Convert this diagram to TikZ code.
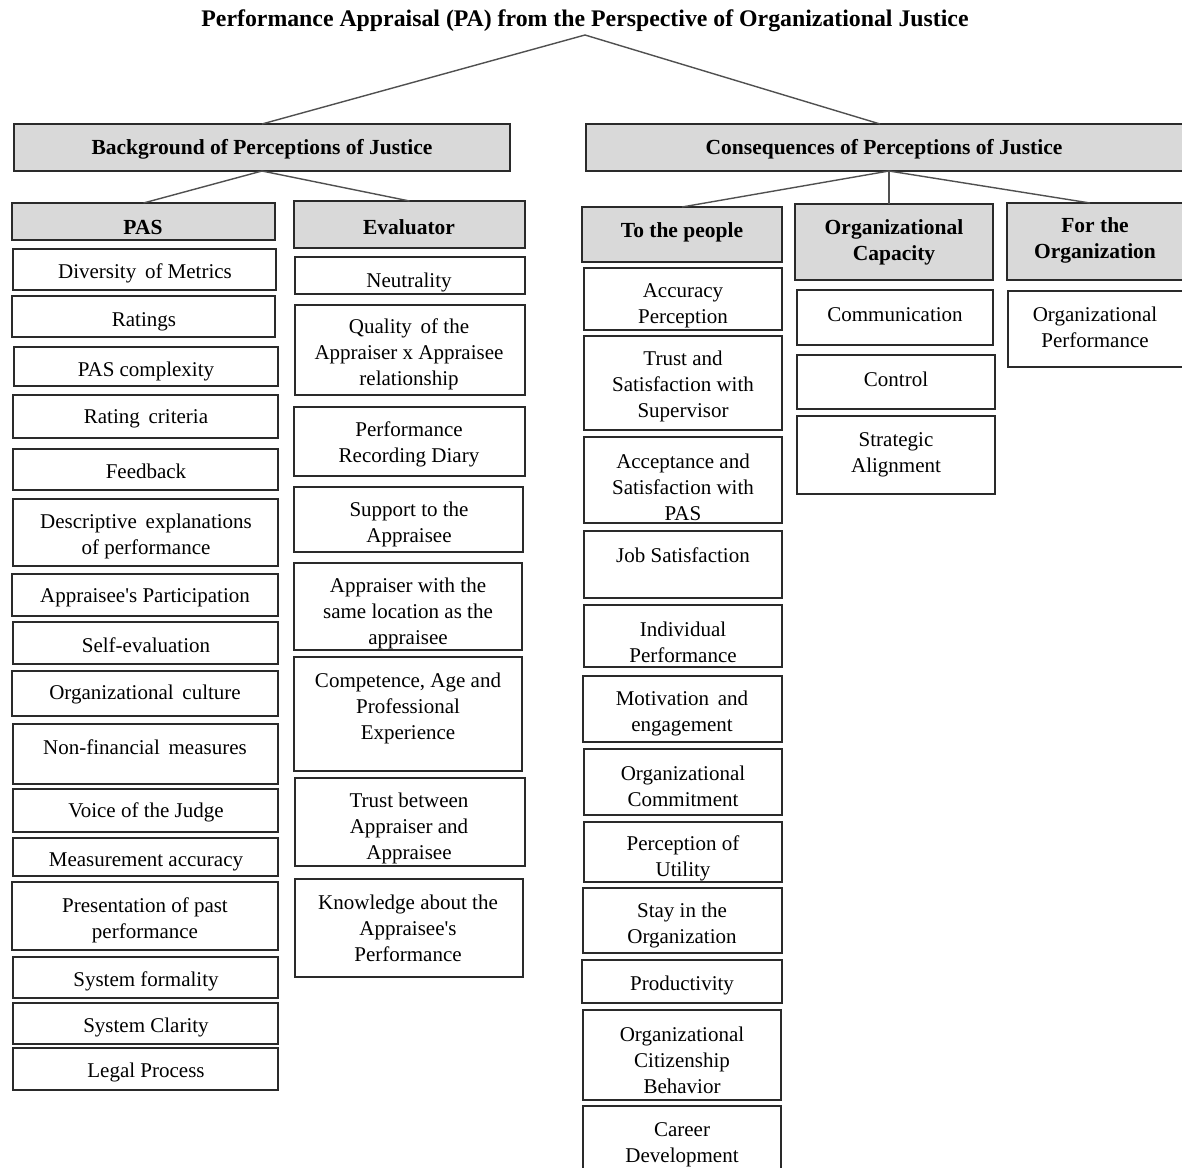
\documentclass[tikz,border=0pt]{standalone}
\usepackage{fontspec}
\setmainfont{Liberation Serif}[Ligatures=TeXOff]
\usetikzlibrary{calc}
\definecolor{hdrgray}{HTML}{D9D9D9}
\definecolor{edge}{HTML}{2A2A2A}
\definecolor{conn}{HTML}{505050}
\tikzset{
  boxw/.style={draw=edge, line width=1.9pt, fill=white, rectangle, inner sep=0pt, outer sep=0pt},
  boxg/.style={draw=edge, line width=1.9pt, fill=hdrgray, rectangle, inner sep=0pt, outer sep=0pt},
  txt/.style={align=center, inner sep=0pt, yshift=-2.5pt, font=\fontsize{21}{26}\selectfont},
  btxt/.style={align=center, inner sep=0pt, yshift=-2.5pt, font=\fontsize{21.5}{26}\selectfont\bfseries},
  ttxt/.style={align=center, inner sep=0pt, font=\fontsize{23.8}{28}\selectfont\bfseries},
  link/.style={draw=conn, line width=1.4pt},
}
% #1 name, #2 x1, #3 y1, #4 x2, #5 y2, #6 style, #7 text x, #8 text y, #9 text
\newcommand\mybx[9]{%
  \node[#6, minimum width={#4-#2}, minimum height={#5-#3}] (#1) at ({(#2+#4)/2},{(#3+#5)/2}) {};
  \node[txt] (#1t) at (#7,#8) {#9};
}
\newcommand\myhd[9]{%
  \node[#6, minimum width={#4-#2}, minimum height={#5-#3}] (#1) at ({(#2+#4)/2},{(#3+#5)/2}) {};
  \node[btxt] (#1t) at (#7,#8) {#9};
}
\begin{document}
\begin{tikzpicture}[x=1pt,y=-1pt]
\useasboundingbox (0,0) rectangle (1182,1167);
\clip (0,0) rectangle (1182,1167);
\fill[white] (0,0) rectangle (1182,1167);

% title
\node[ttxt] (title) at (585,21) {Performance Appraisal (PA) from the Perspective of Organizational Justice};
\coordinate (titleB) at (585,35);

% level 1
\myhd{bg}{14}{124}{510}{171}{boxg}{262}{147}{Background of Perceptions of Justice}
\myhd{cons}{586}{124}{1190}{171}{boxg}{884}{147}{Consequences of Perceptions of Justice}
\coordinate (consTop) at (880,124);
\coordinate (consBot) at (889,171);

% level 2
\myhd{pas}{12}{203}{275}{240}{boxg}{143}{225}{PAS}
\myhd{ev}{294}{201}{525}{248}{boxg}{409}{225}{Evaluator}
\myhd{ppl}{582}{207}{782}{262}{boxg}{682}{230}{To the people}
\myhd{cap}{795}{204}{993}{280}{boxg}{894}{240}{Organizational\\Capacity}
\myhd{forg}{1007}{203}{1190}{280}{boxg}{1095}{238}{For the\\Organization}
\coordinate (forgTop) at (1090,203);

% connectors
\draw[link] (titleB) -- (bg.north);
\draw[link] (titleB) -- (consTop);
\draw[link] (bg.south) -- (pas.north);
\draw[link] (bg.south) -- (ev.north);
\draw[link] (consBot) -- (ppl.north);
\draw[link] (consBot) -- (consBot |- cap.north);
\draw[link] (consBot) -- (forgTop);

% PAS column
\mybx{p1}{13}{249}{276}{290}{boxw}{145}{271}{Diversity\, of Metrics}
\mybx{p2}{12}{296}{275}{337}{boxw}{144}{319}{Ratings}
\mybx{p3}{14}{347}{278}{386}{boxw}{146}{369}{PAS complexity}
\mybx{p4}{13}{395}{278}{438}{boxw}{146}{416}{Rating\, criteria}
\mybx{p5}{13}{449}{278}{490}{boxw}{146}{469}{Feedback}
\mybx{p6}{13}{499}{278}{566}{boxw}{146}{534}{Descriptive\, explanations\\of performance}
\mybx{p7}{12}{574}{278}{616}{boxw}{145}{595}{Appraisee's Participation}
\mybx{p8}{13}{622}{278}{664}{boxw}{146}{643}{Self-evaluation}
\mybx{p9}{12}{671}{278}{716}{boxw}{145}{692}{Organizational\, culture}
\mybx{p10}{13}{724}{278}{784}{boxw}{145}{745}{Non-financial\, measures}
\mybx{p11}{13}{789}{278}{832}{boxw}{146}{810}{Voice of the Judge}
\mybx{p12}{13}{838}{278}{876}{boxw}{146}{859}{Measurement accuracy}
\mybx{p13}{12}{882}{278}{950}{boxw}{145}{918}{Presentation of past\\performance}
\mybx{p14}{13}{957}{278}{998}{boxw}{146}{979}{System formality}
\mybx{p15}{13}{1003}{278}{1044}{boxw}{146}{1025}{System Clarity}
\mybx{p16}{13}{1048}{278}{1090}{boxw}{146}{1070}{Legal Process}

% Evaluator column
\mybx{e1}{295}{257}{525}{294}{boxw}{409}{280}{Neutrality}
\mybx{e2}{295}{305}{525}{395}{boxw}{409}{352}{Quality\, of the\\Appraiser x Appraisee\\relationship}
\mybx{e3}{294}{407}{525}{476}{boxw}{409}{442}{Performance\\Recording Diary}
\mybx{e4}{294}{487}{523}{552}{boxw}{409}{522}{Support to the\\Appraisee}
\mybx{e5}{294}{563}{522}{650}{boxw}{408}{611}{Appraiser with the\\same location as the\\appraisee}
\mybx{e6}{294}{657}{522}{771}{boxw}{408}{706}{Competence, Age and\\Professional\\Experience}
\mybx{e7}{295}{778}{525}{866}{boxw}{409}{826}{Trust between\\Appraiser and\\Appraisee}
\mybx{e8}{295}{879}{523}{977}{boxw}{408}{926}{Knowledge about the\\Appraisee's\\Performance}

% To the people column
\mybx{t1}{584}{268}{782}{330}{boxw}{683}{303}{Accuracy\\Perception}
\mybx{t2}{584}{336}{782}{430}{boxw}{683}{384}{Trust and\\Satisfaction with\\Supervisor}
\mybx{t3}{584}{437}{782}{523}{boxw}{683}{485}{Acceptance and\\Satisfaction with\\PAS}
\mybx{t4}{584}{531}{782}{598}{boxw}{683}{553}{Job Satisfaction}
\mybx{t5}{584}{605}{782}{667}{boxw}{683}{640}{Individual\\Performance}
\mybx{t6}{583}{676}{782}{742}{boxw}{682}{711}{Motivation\, and\\engagement}
\mybx{t7}{584}{749}{782}{815}{boxw}{683}{784}{Organizational\\Commitment}
\mybx{t8}{584}{822}{782}{882}{boxw}{683}{856}{Perception of\\Utility}
\mybx{t9}{583}{888}{782}{953}{boxw}{682}{923}{Stay in the\\Organization}
\mybx{t10}{582}{960}{782}{1003}{boxw}{682}{983}{Productivity}
\mybx{t11}{583}{1010}{781}{1100}{boxw}{682}{1058}{Organizational\\Citizenship\\Behavior}
\mybx{t12}{583}{1106}{781}{1180}{boxw}{682}{1142}{Career\\Development}

% Organizational capacity column
\mybx{c1}{797}{290}{993}{345}{boxw}{895}{312}{Communication}
\mybx{c2}{797}{355}{995}{409}{boxw}{896}{377}{Control}
\mybx{c3}{797}{416}{995}{494}{boxw}{896}{452}{Strategic\\Alignment}

% For the organization column
\mybx{f1}{1008}{291}{1190}{367}{boxw}{1095}{325}{Organizational\\Performance}
\end{tikzpicture}
\end{document}
